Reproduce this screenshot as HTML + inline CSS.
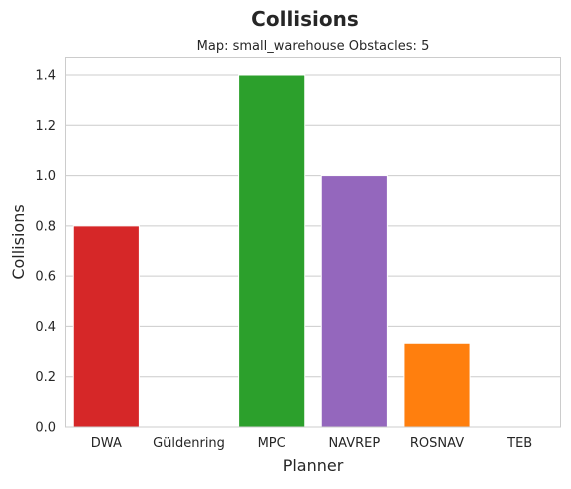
<!DOCTYPE html>
<html><head><meta charset="utf-8"><style>
body{margin:0;background:#fff;font-family:"Liberation Sans","DejaVu Sans",sans-serif;}
</style></head><body>
<svg id="chart" width="571" height="484" xmlns="http://www.w3.org/2000/svg" font-family="DejaVu Sans, Liberation Sans, sans-serif">
<rect width="571" height="484" fill="#fff"/>
<text x="305" y="26" text-anchor="middle" font-size="20" font-weight="bold" fill="#262626">Collisions</text>
<text x="313" y="50" text-anchor="middle" font-size="13" fill="#262626">Map: small_warehouse Obstacles: 5</text>
<g id="grid"></g>
<g id="bars"></g>
<rect x="65.5" y="57.5" width="495" height="369.5" fill="none" stroke="#cccccc" stroke-width="1"/>
<g id="xt"></g><g id="yt"></g>
<text x="313" y="471" text-anchor="middle" font-size="16" fill="#262626">Planner</text>
<text transform="translate(24,242) rotate(-90)" text-anchor="middle" font-size="16" fill="#262626">Collisions</text>
</svg>
<script>
const categories=["DWA","Güldenring","MPC","NAVREP","ROSNAV","TEB"];
const values=[0.8,0,1.4,1.0,0.333,0];
const colors=["#d62728","#1f77b4","#2ca02c","#9467bd","#ff7f0e","#8c564b"];
const yTicks=[0,0.2,0.4,0.6,0.8,1.0,1.2,1.4];
const NS="http://www.w3.org/2000/svg";
const L=65,R=561,T=57,B=427,yMax=1.4*370/352;
const y=v=>B-v/yMax*(B-T);
const band=(R-L)/categories.length;
const x=i=>L+band*i;
function mk(t,a,p){const e=document.createElementNS(NS,t);for(const k in a)e.setAttribute(k,a[k]);document.getElementById(p).appendChild(e);return e;}
yTicks.forEach(v=>{
 const g=mk("line",{x1:L,x2:R,y1:y(v),y2:y(v),stroke:"#cccccc","stroke-width":1},"grid");
 
 
 const t=mk("text",{x:L-9,y:y(v)+4.5,"text-anchor":"end","font-size":13,fill:"#262626"},"yt");
 t.textContent=v.toFixed(1);
 
 
});
categories.forEach((c,i)=>{
 const w=band*0.8,h=B-y(values[i]);
 if(h>0){const b=mk("rect",{x:x(i)+band*0.1,y:y(values[i]),width:w,height:h,fill:colors[i],stroke:"#fff","stroke-width":1},"bars");
 
 }
 const t=mk("text",{x:x(i)+band/2,y:B+20,"text-anchor":"middle","font-size":13,fill:"#262626"},"xt");
 t.textContent=c;
 
 
});
</script>
</body></html>
